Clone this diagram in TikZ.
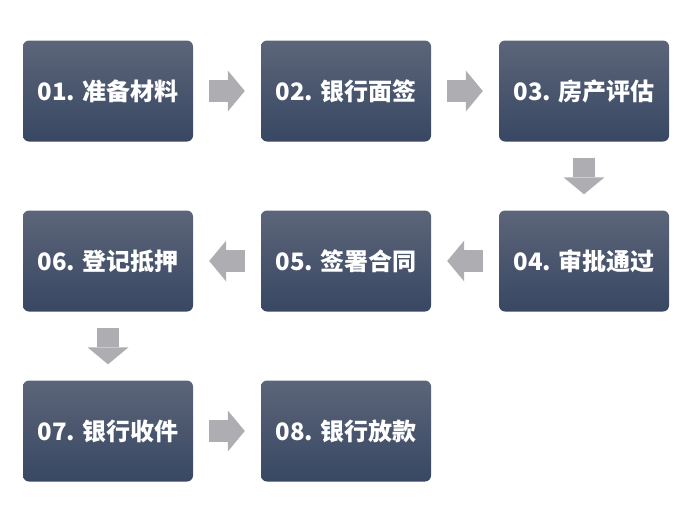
\documentclass[tikz,border=0pt]{standalone}
\usepackage{fontspec}
\newfontfamily\cjk{Noto Sans CJK SC}
\usetikzlibrary{arrows.meta}
\definecolor{boxtop}{RGB}{92,101,121}
\definecolor{boxbot}{RGB}{56,71,99}
\definecolor{arrowgray}{RGB}{174,174,178}

\begin{document}
\begin{tikzpicture}[x=1pt,y=-1pt,
    stepbox/.style={rounded corners=6pt,top color=boxtop,bottom color=boxbot,
        minimum width=170pt,minimum height=101pt,text=white,
        font=\cjk\bfseries\fontsize{24}{28}\selectfont},
    flow/.style={draw=arrowgray,line width=22pt,
        -{Triangle[length=17pt,width=41pt,line width=0pt]},
        shorten <=16pt,shorten >=16pt}]
    \useasboundingbox (0,0) rectangle (690,512);

    % steps
    \node[stepbox] (s1) at (108,91) {01. 准备材料};
    \node[stepbox] (s2) at (346,91) {02. 银行面签};
    \node[stepbox] (s3) at (584,91) {03. 房产评估};
    \node[stepbox] (s4) at (584,261) {04. 审批通过};
    \node[stepbox] (s5) at (346,261) {05. 签署合同};
    \node[stepbox] (s6) at (108,261) {06. 登记抵押};
    \node[stepbox] (s7) at (108,431) {07. 银行收件};
    \node[stepbox] (s8) at (346,431) {08. 银行放款};

    % arrows
    \draw[flow] (s1) -- (s2);
    \draw[flow] (s2) -- (s3);
    \draw[flow] (s3) -- (s4);
    \draw[flow] (s4) -- (s5);
    \draw[flow] (s5) -- (s6);
    \draw[flow] (s6) -- (s7);
    \draw[flow] (s7) -- (s8);
\end{tikzpicture}
\end{document}
